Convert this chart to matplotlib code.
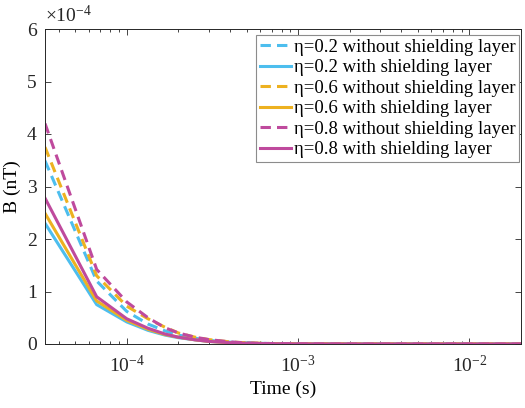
import numpy as np
import matplotlib
matplotlib.use("Agg")
import matplotlib.pyplot as plt
from matplotlib.ticker import LogLocator, NullFormatter

plt.rcParams["font.family"] = ["Liberation Serif", "DejaVu Serif"]
plt.rcParams["mathtext.fontset"] = "custom"
plt.rcParams["mathtext.rm"] = "Liberation Serif"
plt.rcParams["mathtext.it"] = "Liberation Serif:italic"

# time samples [s]
time = [3.33e-5, 6.67e-5, 1.0e-4, 1.33e-4, 1.67e-4, 2.0e-4, 2.5e-4, 3.0e-4,
        4.0e-4, 5.0e-4, 7.0e-4, 1.0e-3, 2.0e-3, 5.0e-3, 1.0e-2, 2.0e-2]

# B in units of 1e-4 nT
b02_without = [3.49, 1.20, 0.62, 0.38, 0.25, 0.17, 0.11, 0.07, 0.035, 0.020, 0.008, 0.003, 0.0, 0.0, 0.0, 0.0]
b02_with    = [2.30, 0.75, 0.42, 0.26, 0.17, 0.12, 0.08, 0.05, 0.025, 0.015, 0.006, 0.002, 0.0, 0.0, 0.0, 0.0]
b06_without = [3.75, 1.30, 0.72, 0.48, 0.32, 0.21, 0.13, 0.085, 0.040, 0.022, 0.009, 0.003, 0.0, 0.0, 0.0, 0.0]
b06_with    = [2.49, 0.82, 0.45, 0.28, 0.18, 0.13, 0.08, 0.05, 0.025, 0.014, 0.005, 0.002, 0.0, 0.0, 0.0, 0.0]
b08_without = [4.20, 1.42, 0.80, 0.50, 0.31, 0.21, 0.13, 0.085, 0.040, 0.020, 0.008, 0.003, 0.0, 0.0, 0.0, 0.0]
b08_with    = [2.78, 0.90, 0.48, 0.30, 0.19, 0.13, 0.08, 0.05, 0.025, 0.013, 0.005, 0.002, 0.0, 0.0, 0.0, 0.0]

series = [
    (b02_without, "η=0.2 without shielding layer", "#4DBEEE", "--"),
    (b02_with,    "η=0.2 with shielding layer",    "#4DBEEE", "-"),
    (b06_without, "η=0.6 without shielding layer", "#EDB120", "--"),
    (b06_with,    "η=0.6 with shielding layer",    "#EDB120", "-"),
    (b08_without, "η=0.8 without shielding layer", "#BF4A9D", "--"),
    (b08_with,    "η=0.8 with shielding layer",    "#BF4A9D", "-"),
]

fig = plt.figure(figsize=(5.25, 4.08), dpi=100)
ax = fig.add_axes([45 / 525, 1 - 344 / 408, 476 / 525, 315 / 408])

for vals, lbl, col, ls in series:
    line, = ax.plot(time, vals, color=col, lw=2.2, ls=ls, label=lbl)
    if ls == "--":
        line.set_dashes((3.4, 2.0))

ax.set_xscale("log")
ax.set_xlim(3.33e-5, 2e-2)
ax.set_ylim(0, 6)
ax.set_yticks(range(0, 7))
ax.xaxis.set_minor_locator(LogLocator(base=10, subs=np.arange(2, 10), numticks=20))
ax.xaxis.set_minor_formatter(NullFormatter())

ax.tick_params(which="both", direction="in", top=True, right=True,
               labelsize=14, colors="#262626", width=0.6)
ax.tick_params(which="major", length=4)
ax.tick_params(which="minor", length=2.5)
ax.tick_params(axis="x", which="major", pad=8)
ax.tick_params(axis="y", which="major", pad=6)
for sp in ax.spines.values():
    sp.set_linewidth(0.7)
    sp.set_color("#262626")

ax.text(0.0, 1.01, r"$\times10^{-4}$", transform=ax.transAxes,
        fontsize=14, ha="left", va="bottom", color="#262626")

ax.set_xlabel("Time (s)", fontsize=14, labelpad=3)
ax.set_ylabel("B (nT)", fontsize=14, labelpad=4)

leg = ax.legend(loc="upper right", bbox_to_anchor=(0.996, 0.981), borderaxespad=0,
                fontsize=13.5, labelspacing=0.18, handlelength=1.65, handletextpad=0.15,
                borderpad=0.2, fancybox=False, framealpha=1)
leg.get_frame().set_edgecolor("#8c8c8c")
leg.get_frame().set_linewidth(0.8)

fig.savefig("out.png", dpi=100)
